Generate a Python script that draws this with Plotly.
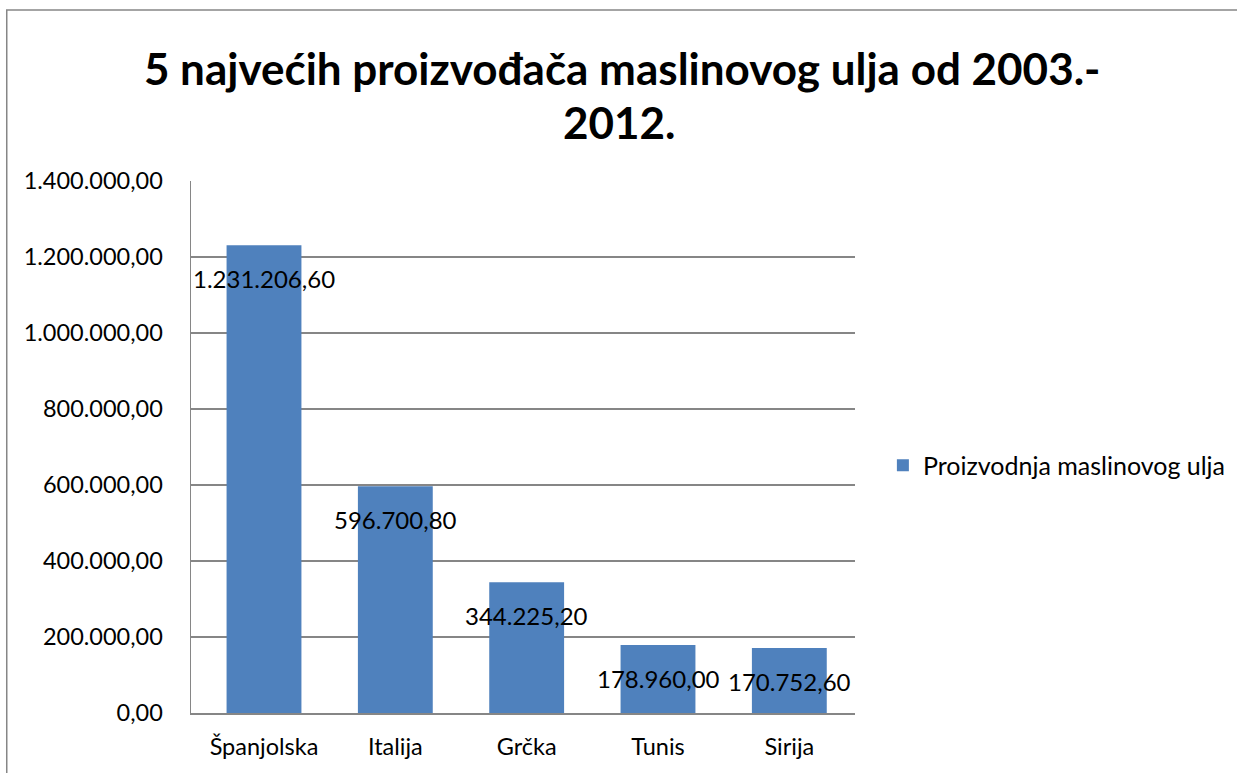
import plotly.graph_objects as go

categories = ["Španjolska", "Italija", "Grčka", "Tunis", "Sirija"]
values = [1231206.60, 596700.80, 344225.20, 178960.00, 170752.60]
value_labels = ["1.231.206,60", "596.700,80", "344.225,20", "178.960,00", "170.752,60"]
series_name = "Proizvodnja maslinovog ulja"
title_line1 = "5 najvećih proizvođača maslinovog ulja od 2003.-"
title_line2 = "2012."

FONT = "Lato, Calibri, Carlito, sans-serif"
BAR = "#4F81BD"
GRID = "#868686"

W, H = 1237, 773

fig = go.Figure()
fig.add_trace(go.Bar(
    x=categories, y=values, name=series_name,
    marker=dict(color=BAR, line=dict(width=0)),
    showlegend=True,
))

for c, v, t in zip(categories, values, value_labels):
    fig.add_annotation(x=c, y=v, text=t, showarrow=False, xref="x", yref="y",
                       yanchor="top", yshift=-17,
                       font=dict(family=FONT, size=24, color="black"))

# second title line
fig.add_annotation(x=0.646, y=1.111, xref="paper", yref="paper",
                   xanchor="center", yanchor="middle", showarrow=False,
                   text=title_line2,
                   font=dict(family=FONT, size=44, color="black", weight="bold"))

fig.add_shape(type="rect", xref="paper", yref="paper",
              x0=-0.2775, x1=1.6, y0=-0.2, y1=1.3214,
              line=dict(color=GRID, width=1.5), fillcolor="rgba(0,0,0,0)", layer="above")

fig.update_layout(
    template="none",
    width=W, height=H,
    margin=dict(l=191, r=382, t=181, b=60, autoexpand=False),
    paper_bgcolor="white", plot_bgcolor="white",
    separators=",.",
    bargap=0.43,
    title=dict(text=title_line1, x=0.503, xref="container", xanchor="center",
               y=0.9094, yref="container", yanchor="middle",
               font=dict(family=FONT, size=44, color="black", weight="bold")),
    font=dict(family=FONT, size=23, color="black"),
    legend=dict(x=1.042, y=0.465, xanchor="left", yanchor="middle",
                font=dict(family=FONT, size=25, color="black"),
                bgcolor="rgba(0,0,0,0)", borderwidth=0),
    xaxis=dict(showline=True, linecolor=GRID, linewidth=1.5, ticks="",
               tickfont=dict(family=FONT, size=23.5, color="black"),
               ticklabelstandoff=12, showgrid=False, automargin=False),
    yaxis=dict(range=[0, 1400000], dtick=200000, tickformat=",.2f",
               showline=True, linecolor=GRID, linewidth=1.5,
               showgrid=True, gridcolor=GRID, gridwidth=1.2,
               zeroline=False, ticks="", automargin=False,
               tickfont=dict(family=FONT, size=23.5, color="black"),
               ticklabelstandoff=22),
)

fig.write_html("out.html",
               config={"displayModeBar": False, "staticPlot": True},
               post_script="document.body.style.margin='0px';document.body.style.overflow='hidden';")
